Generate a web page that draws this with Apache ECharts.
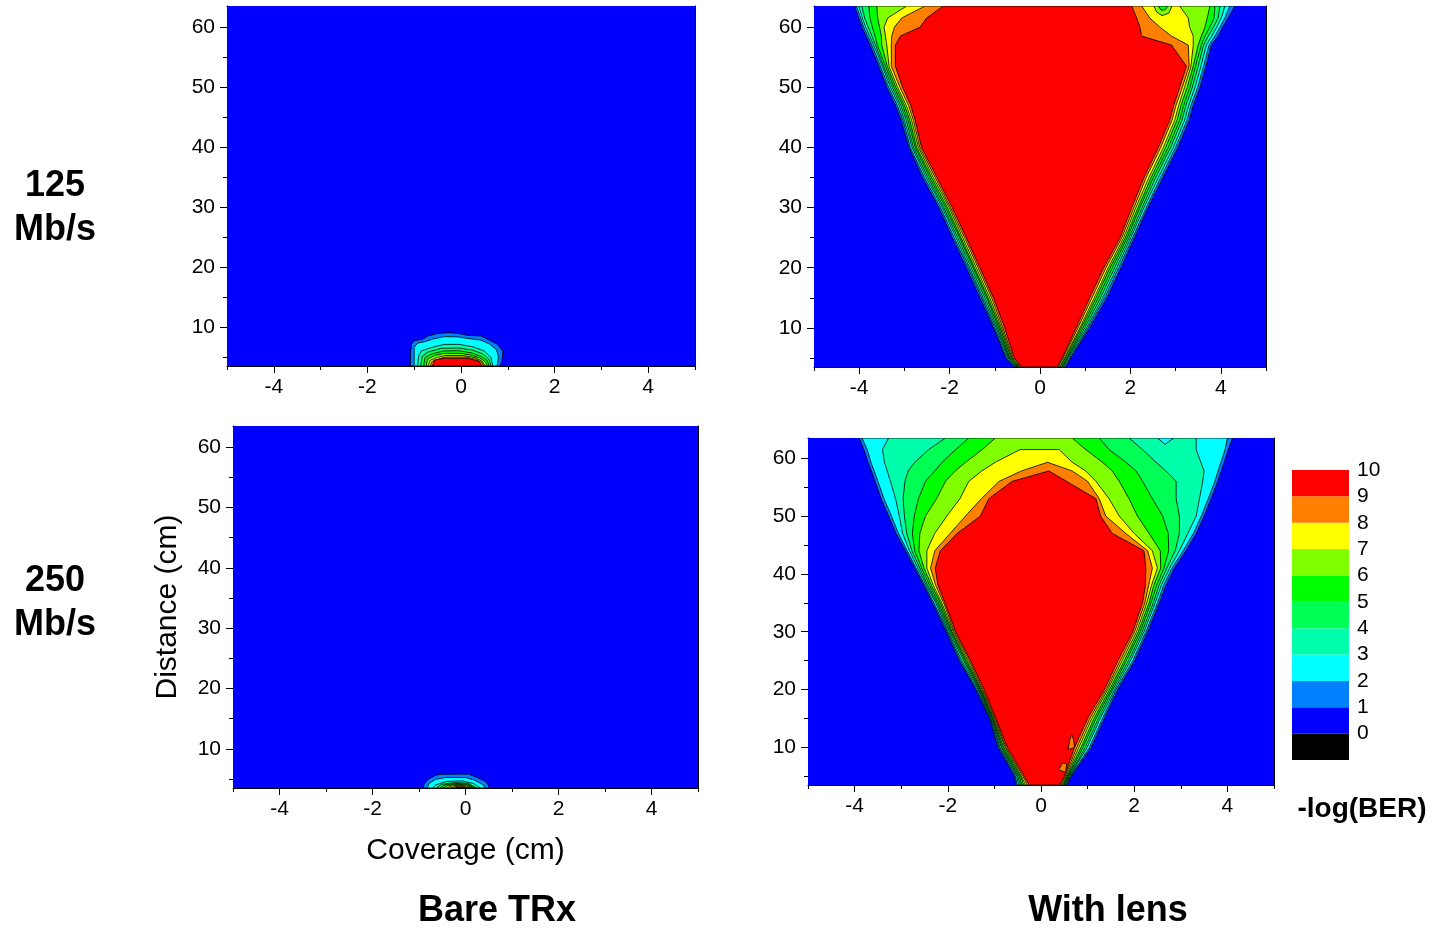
<!DOCTYPE html>
<html>
<head>
<meta charset="utf-8">
<title>-log(BER) coverage maps</title>
<script src="https://cdn.jsdelivr.net/npm/echarts@6/dist/echarts.min.js"></script>
<style>
  html, body { margin: 0; padding: 0; background: #fff; }
  #chart { width: 1435px; height: 929px; }
</style>
</head>
<body>
<div id="chart"></div>
<script>
// axis extents and ticks (cm)
const coverageRange = [-5, 5];
const distanceRange = [3.5, 63.5];
const coverageMajor = [-4, -2, 0, 2, 4];
const coverageMinor = [-5, -3, -1, 1, 3, 5];
const coverageAll = [-5, -4, -3, -2, -1, 0, 1, 2, 3, 4, 5];
const distanceMajor = [10, 20, 30, 40, 50, 60];
const distanceMinor = [5, 15, 25, 35, 45, 55];
const distanceAll = [5, 10, 15, 20, 25, 30, 35, 40, 45, 50, 55, 60];

// -log(BER) bands: lower bound of each band and its fill
const bandLevels = [-1, 0, 1, 2, 3, 4, 5, 6, 7, 8, 9];
const bandColors = ['#000000', '#0000ff', '#0080ff', '#00ffff', '#00ffaa', '#00ff55',
                    '#00ff00', '#80ff00', '#ffff00', '#ff8000', '#ff0000'];

// Bare TRx: contour lines -log(BER) = 1..9 as [coverage, distance]
const bare125Contours = [
  [[-1.08, 3.5], [-1.08, 5.2], [-1.06, 7.1], [-1.0, 7.7], [-0.82, 7.95], [-0.71, 8.5], [-0.5, 8.9], [-0.28, 9.06], [-0.07, 8.95], [0.14, 8.6], [0.43, 8.5], [0.57, 7.95], [0.78, 7.1], [0.89, 6.0], [0.89, 5.2], [0.86, 4.06], [0.82, 3.5]],
  [[-1.0, 3.5], [-1.0, 6.6], [-0.93, 7.3], [-0.75, 7.6], [-0.6, 8.0], [-0.35, 8.4], [-0.07, 8.35], [0.14, 8.1], [0.43, 7.8], [0.6, 7.2], [0.76, 6.2], [0.8, 5.0], [0.77, 3.5]],
  [[-0.93, 3.5], [-0.9, 5.3], [-0.85, 6.0], [-0.64, 6.56], [-0.36, 7.1], [-0.04, 7.1], [0.25, 6.7], [0.5, 6.0], [0.64, 4.9], [0.68, 3.5]],
  [[-0.86, 3.5], [-0.83, 5.1], [-0.72, 5.8], [-0.42, 6.45], [-0.05, 6.5], [0.25, 6.15], [0.47, 5.5], [0.6, 4.6], [0.64, 3.5]],
  [[-0.8, 3.5], [-0.77, 4.9], [-0.63, 5.5], [-0.38, 6.0], [-0.05, 6.05], [0.22, 5.7], [0.43, 5.1], [0.56, 4.4], [0.6, 3.5]],
  [[-0.75, 3.5], [-0.71, 4.7], [-0.56, 5.25], [-0.36, 5.6], [0.0, 5.6], [0.2, 5.35], [0.4, 4.85], [0.52, 4.2], [0.56, 3.5]],
  [[-0.7, 3.5], [-0.66, 4.45], [-0.5, 4.95], [-0.33, 5.25], [0.05, 5.25], [0.3, 4.9], [0.44, 4.35], [0.52, 3.5]],
  [[-0.66, 3.5], [-0.62, 4.25], [-0.45, 4.75], [-0.33, 5.0], [0.1, 5.0], [0.33, 4.6], [0.45, 4.05], [0.49, 3.5]],
  [[-0.61, 3.5], [-0.57, 4.5], [-0.36, 4.78], [0.14, 4.78], [0.38, 4.3], [0.45, 3.5]]
];
const bare250Contours = [
  [[-0.91, 3.5], [-0.89, 4.12], [-0.8, 4.95], [-0.64, 5.62], [-0.5, 5.79], [0.07, 5.79], [0.25, 5.23], [0.43, 4.57], [0.5, 3.85], [0.51, 3.5]],
  [[-0.82, 3.5], [-0.79, 4.2], [-0.64, 4.95], [-0.43, 5.23], [0.0, 5.23], [0.18, 4.84], [0.36, 4.12], [0.43, 3.5]],
  [[-0.71, 3.5], [-0.64, 4.0], [-0.43, 4.57], [-0.07, 4.68], [0.18, 4.23], [0.32, 3.5]],
  [[-0.62, 3.5], [-0.52, 4.1], [-0.25, 4.4], [0.05, 4.3], [0.24, 3.5]],
  [[-0.55, 3.5], [-0.45, 4.0], [-0.22, 4.25], [0.04, 4.15], [0.2, 3.5]],
  [[-0.48, 3.5], [-0.38, 3.92], [-0.18, 4.1], [0.03, 4.0], [0.16, 3.5]],
  [[-0.4, 3.5], [-0.31, 3.82], [-0.15, 3.95], [0.02, 3.85], [0.12, 3.5]],
  [[-0.32, 3.5], [-0.23, 3.72], [-0.1, 3.8], [0.0, 3.7], [0.08, 3.5]],
  [[-0.22, 3.5], [-0.13, 3.62], [-0.03, 3.6], [0.03, 3.5]]
];

// With lens: coverage where each contour 1..9 crosses a distance, left and right side
const lens125Distance = [3.5, 5, 10, 15, 20, 25, 30, 35, 40, 44.5, 47, 50, 53.5, 57, 58.5, 60, 61.5, 63.5];
const lens125Left = [
  [-0.57, -0.76, -1.03, -1.33, -1.63, -1.94, -2.24, -2.60, -2.90, -3.07, -3.20, -3.39, -3.57, -3.76, -3.85, -3.94, -4.01, -4.10],
  [-0.55, -0.74, -1.00, -1.29, -1.59, -1.90, -2.20, -2.56, -2.87, -3.03, -3.16, -3.35, -3.53, -3.72, -3.81, -3.90, -3.97, -4.06],
  [-0.53, -0.71, -0.97, -1.26, -1.56, -1.86, -2.16, -2.52, -2.83, -3.00, -3.12, -3.31, -3.49, -3.68, -3.77, -3.86, -3.93, -4.01],
  [-0.51, -0.69, -0.94, -1.22, -1.52, -1.82, -2.13, -2.48, -2.80, -2.96, -3.08, -3.27, -3.46, -3.64, -3.72, -3.80, -3.88, -3.94],
  [-0.49, -0.67, -0.91, -1.18, -1.48, -1.78, -2.09, -2.44, -2.76, -2.92, -3.04, -3.23, -3.42, -3.60, -3.65, -3.71, -3.76, -3.79],
  [-0.47, -0.64, -0.88, -1.15, -1.45, -1.75, -2.05, -2.40, -2.73, -2.88, -3.00, -3.19, -3.38, -3.50, -3.51, -3.55, -3.59, -3.61],
  [-0.45, -0.62, -0.85, -1.11, -1.41, -1.71, -2.01, -2.36, -2.69, -2.84, -2.96, -3.15, -3.34, -3.39, -3.42, -3.45, -3.37, -2.95],
  [-0.43, -0.60, -0.82, -1.07, -1.37, -1.67, -1.98, -2.32, -2.66, -2.80, -2.91, -3.10, -3.29, -3.29, -3.28, -3.22, -3.06, -2.54],
  [-0.40, -0.57, -0.78, -1.03, -1.33, -1.63, -1.94, -2.28, -2.62, -2.76, -2.86, -3.04, -3.20, -3.20, -3.09, -2.65, -2.51, -2.14]
];
const lens125Right = [
  [0.57, 0.68, 1.10, 1.48, 1.79, 2.09, 2.39, 2.72, 3.05, 3.30, 3.39, 3.54, 3.67, 3.79, 3.94, 4.04, 4.16, 4.31],
  [0.55, 0.66, 1.06, 1.43, 1.74, 2.05, 2.35, 2.67, 3.00, 3.25, 3.34, 3.49, 3.62, 3.74, 3.87, 3.98, 4.09, 4.20],
  [0.52, 0.63, 1.03, 1.39, 1.70, 2.01, 2.30, 2.62, 2.95, 3.20, 3.29, 3.43, 3.56, 3.68, 3.80, 3.91, 4.01, 4.09],
  [0.50, 0.61, 0.99, 1.34, 1.65, 1.97, 2.26, 2.56, 2.89, 3.14, 3.23, 3.37, 3.50, 3.62, 3.72, 3.84, 3.94, 3.98],
  [0.48, 0.59, 0.95, 1.29, 1.60, 1.93, 2.21, 2.51, 2.84, 3.09, 3.18, 3.32, 3.44, 3.57, 3.65, 3.76, 3.85, 3.87],
  [0.45, 0.56, 0.91, 1.24, 1.55, 1.89, 2.17, 2.46, 2.78, 3.03, 3.12, 3.26, 3.39, 3.50, 3.57, 3.65, 3.70, 3.76],
  [0.43, 0.54, 0.88, 1.20, 1.51, 1.85, 2.12, 2.41, 2.73, 2.98, 3.07, 3.20, 3.34, 3.39, 3.39, 3.31, 3.28, 3.09],
  [0.40, 0.51, 0.84, 1.15, 1.46, 1.81, 2.08, 2.35, 2.67, 2.92, 3.01, 3.15, 3.30, 3.28, 2.91, 2.65, 2.43, 2.25],
  [0.38, 0.49, 0.80, 1.10, 1.41, 1.77, 2.03, 2.30, 2.62, 2.87, 2.96, 3.09, 3.24, 2.91, 2.25, 2.21, 2.14, 2.03]
];
const lens250Distance = [3.5, 5, 10, 15, 20, 25, 30, 35, 38, 41, 44, 47, 50, 53, 56, 57.8, 59.3, 61.5, 63.5];
const lens250Left = [
  [-0.54, -0.57, -0.93, -1.11, -1.40, -1.76, -2.04, -2.33, -2.52, -2.71, -2.91, -3.11, -3.27, -3.43, -3.56, -3.64, -3.71, -3.80, -3.90],
  [-0.51, -0.55, -0.90, -1.09, -1.38, -1.73, -2.01, -2.30, -2.49, -2.68, -2.87, -3.06, -3.21, -3.37, -3.50, -3.58, -3.65, -3.73, -3.84],
  [-0.48, -0.52, -0.88, -1.08, -1.35, -1.70, -1.99, -2.26, -2.46, -2.64, -2.82, -2.97, -3.04, -3.12, -3.23, -3.30, -3.36, -3.40, -3.27],
  [-0.44, -0.50, -0.85, -1.06, -1.33, -1.66, -1.96, -2.23, -2.43, -2.60, -2.77, -2.88, -2.93, -2.96, -2.92, -2.85, -2.71, -2.41, -2.05],
  [-0.41, -0.47, -0.83, -1.04, -1.31, -1.63, -1.93, -2.20, -2.39, -2.56, -2.71, -2.76, -2.72, -2.63, -2.48, -2.28, -2.12, -1.83, -1.55],
  [-0.37, -0.44, -0.80, -1.03, -1.29, -1.60, -1.91, -2.16, -2.35, -2.51, -2.62, -2.60, -2.48, -2.24, -2.05, -1.84, -1.62, -1.26, -0.98],
  [-0.33, -0.42, -0.77, -1.01, -1.27, -1.57, -1.88, -2.13, -2.31, -2.45, -2.45, -2.28, -2.02, -1.74, -1.55, -1.27, -0.98, -0.45, null],
  [-0.29, -0.39, -0.75, -0.99, -1.25, -1.54, -1.86, -2.09, -2.26, -2.37, -2.28, -1.95, -1.62, -1.28, -0.90, -0.42, 0.14, null, null],
  [-0.25, -0.36, -0.72, -0.97, -1.22, -1.51, -1.83, -2.06, -2.21, -2.27, -2.16, -1.80, -1.30, -1.12, -0.62, 0.17, null, null, null]
];
const lens250Right = [
  [0.57, 0.65, 1.08, 1.36, 1.65, 2.01, 2.29, 2.54, 2.68, 2.86, 3.11, 3.33, 3.50, 3.65, 3.79, 3.87, 3.93, 4.02, 4.11],
  [0.55, 0.63, 1.04, 1.32, 1.61, 1.97, 2.25, 2.50, 2.63, 2.81, 3.05, 3.27, 3.44, 3.59, 3.73, 3.80, 3.86, 3.95, 4.00],
  [0.53, 0.61, 0.99, 1.27, 1.58, 1.92, 2.21, 2.45, 2.58, 2.76, 2.97, 3.15, 3.33, 3.40, 3.47, 3.50, 3.43, 3.33, 3.33],
  [0.51, 0.60, 0.95, 1.23, 1.54, 1.88, 2.17, 2.41, 2.53, 2.70, 2.88, 2.97, 2.97, 2.90, 2.90, 2.68, 2.47, 2.18, 1.89],
  [0.49, 0.58, 0.90, 1.18, 1.51, 1.83, 2.13, 2.36, 2.48, 2.64, 2.74, 2.73, 2.61, 2.39, 2.18, 2.04, 1.82, 1.46, 1.25],
  [0.47, 0.56, 0.86, 1.14, 1.47, 1.79, 2.09, 2.32, 2.42, 2.57, 2.56, 2.32, 2.07, 1.89, 1.68, 1.53, 1.32, 0.96, 0.67],
  [0.45, 0.54, 0.81, 1.09, 1.43, 1.74, 2.05, 2.27, 2.37, 2.50, 2.39, 2.00, 1.68, 1.46, 1.18, 0.96, 0.67, 0.39, null],
  [0.42, 0.52, 0.77, 1.05, 1.40, 1.70, 2.01, 2.23, 2.31, 2.39, 2.29, 1.82, 1.39, 1.25, 1.00, 0.67, 0.14, null, null],
  [0.40, 0.50, 0.72, 1.00, 1.36, 1.65, 1.97, 2.18, 2.24, 2.25, 2.21, 1.53, 1.28, 1.18, 0.55, 0.17, null, null, null]
];

// small closed pockets of a lower band inside a higher one
const lens125Pockets = [
  { band: 6, line: [[2.52, 63.5], [2.58, 62.5], [2.70, 61.9], [2.85, 62.3], [2.92, 63.5]] },
  { band: 5, line: [[2.62, 63.5], [2.68, 62.8], [2.78, 62.9], [2.82, 63.5]] }
];
const lens250Pockets = [
  { band: 2, line: [[2.50, 63.5], [2.66, 62.4], [2.85, 63.5]] },
  { band: 8, line: [[0.58, 9.6], [0.62, 11.4], [0.66, 12.2], [0.70, 11.3], [0.72, 10.0]] },
  { band: 8, line: [[0.38, 6.1], [0.46, 7.3], [0.55, 7.2], [0.53, 5.7]] }
];

const fontFamily = "'Liberation Sans', Arial, Helvetica, sans-serif";

function baseShape() {
  const [x0, x1] = coverageRange, [y0, y1] = distanceRange;
  return { band: 0, pts: [[x0, y0], [x1, y0], [x1, y1], [x0, y1]] };
}

function domeShapes(contours) {
  return [baseShape()].concat(contours.map((line, i) => ({ band: i + 1, pts: line })));
}

function vShapes(dist, left, right, pockets) {
  const shapes = [baseShape()];
  left.forEach((l, k) => {
    const pts = [];
    dist.forEach((d, i) => { if (l[i] != null) pts.push([l[i], d]); });
    for (let i = dist.length - 1; i >= 0; i--) {
      if (right[k][i] != null) pts.push([right[k][i], dist[i]]);
    }
    shapes.push({ band: k + 1, pts });
  });
  pockets.forEach(p => shapes.push({ band: p.band, pts: p.line }));
  return shapes;
}

const panels = [
  { rect: { left: 227, top: 6, width: 468, height: 360 }, shapes: domeShapes(bare125Contours) },
  { rect: { left: 814, top: 6, width: 452, height: 361 }, shapes: vShapes(lens125Distance, lens125Left, lens125Right, lens125Pockets) },
  { rect: { left: 233, top: 426, width: 465, height: 362 }, shapes: domeShapes(bare250Contours), names: true },
  { rect: { left: 808, top: 438, width: 466, height: 347 }, shapes: vShapes(lens250Distance, lens250Left, lens250Right, lens250Pockets) }
];

const black = { color: '#000', width: 1 };
const labelStyle = { color: '#000', fontSize: 21, fontFamily };

const grids = [], xAxes = [], yAxes = [], series = [];

// main grids: frame, labelled major ticks, mirror ticks on top/right
panels.forEach((p, i) => {
  grids.push(Object.assign({ containLabel: false, outerBoundsMode: 'none' }, p.rect));
  xAxes.push({
    gridIndex: i, type: 'value', position: 'bottom', min: coverageRange[0], max: coverageRange[1],
    axisLine: { show: true, onZero: false, lineStyle: black },
    axisTick: { show: true, length: 7, customValues: coverageMajor, lineStyle: black },
    axisLabel: Object.assign({ show: true, margin: 11, customValues: coverageMajor }, labelStyle),
    splitLine: { show: false },
    name: p.names ? 'Coverage (cm)' : '', nameLocation: 'middle', nameGap: 48,
    nameTextStyle: { color: '#000', fontSize: 30, fontFamily }
  });
  xAxes.push({
    gridIndex: i, type: 'value', position: 'top', min: coverageRange[0], max: coverageRange[1],
    axisLine: { show: true, onZero: false, lineStyle: black },
    axisTick: { show: true, inside: true, length: 4, customValues: coverageAll, lineStyle: black },
    axisLabel: { show: false }, splitLine: { show: false }
  });
  yAxes.push({
    gridIndex: i, type: 'value', position: 'left', min: distanceRange[0], max: distanceRange[1],
    axisLine: { show: true, onZero: false, lineStyle: black },
    axisTick: { show: true, length: 7, customValues: distanceMajor, lineStyle: black },
    axisLabel: Object.assign({ show: true, margin: 12, customValues: distanceMajor }, labelStyle),
    splitLine: { show: false },
    name: p.names ? 'Distance (cm)' : '', nameLocation: 'middle', nameGap: 50, nameRotate: 90,
    nameTextStyle: { color: '#000', fontSize: 30, fontFamily }
  });
  yAxes.push({
    gridIndex: i, type: 'value', position: 'right', min: distanceRange[0], max: distanceRange[1],
    axisLine: { show: true, onZero: false, lineStyle: black },
    axisTick: { show: true, inside: true, length: 4, customValues: distanceAll, lineStyle: black },
    axisLabel: { show: false }, splitLine: { show: false }
  });
  series.push({
    type: 'custom', xAxisIndex: 2 * i, yAxisIndex: 2 * i, clip: true, silent: true,
    data: p.shapes.map((s, k) => k),
    renderItem: function (params, api) {
      const s = p.shapes[params.dataIndex];
      return {
        type: 'polygon',
        shape: { points: s.pts.map(pt => api.coord(pt)) },
        style: { fill: bandColors[s.band + 1], stroke: s.band > 0 ? '#000' : null, lineWidth: 0.8 }
      };
    },
    z: 1
  });
});

// twin grids carrying the short minor ticks on bottom/left
panels.forEach((p, i) => {
  grids.push(Object.assign({ containLabel: false, outerBoundsMode: 'none' }, p.rect));
  xAxes.push({
    gridIndex: 4 + i, type: 'value', position: 'bottom', min: coverageRange[0], max: coverageRange[1],
    axisLine: { show: false, onZero: false },
    axisTick: { show: true, length: 4, customValues: coverageMinor, lineStyle: black },
    axisLabel: { show: false }, splitLine: { show: false }
  });
  yAxes.push({
    gridIndex: 4 + i, type: 'value', position: 'left', min: distanceRange[0], max: distanceRange[1],
    axisLine: { show: false, onZero: false },
    axisTick: { show: true, length: 4, customValues: distanceMinor, lineStyle: black },
    axisLabel: { show: false }, splitLine: { show: false }
  });
});

// colour scale (grid 8, axis index 12)
const scaleAxis = xAxes.length;
grids.push({ left: 1292, top: 470, width: 57, height: 290, containLabel: false, outerBoundsMode: 'none' });
xAxes.push({ gridIndex: 8, type: 'value', min: 0, max: 1, show: false });
yAxes.push({
  gridIndex: 8, type: 'value', position: 'right', min: -1, max: 10, interval: 1,
  axisLine: { show: false }, axisTick: { show: false }, splitLine: { show: false },
  axisLabel: Object.assign({ margin: 8, formatter: v => (v < 0 ? '' : String(v)) }, labelStyle)
});
series.push({
  type: 'custom', xAxisIndex: scaleAxis, yAxisIndex: scaleAxis, silent: true,
  data: bandLevels.map(b => [0.5, b]),
  renderItem: function (params, api) {
    const b = bandLevels[params.dataIndex];
    const tl = api.coord([0, b + 1]);
    const br = api.coord([1, b]);
    return {
      type: 'rect',
      shape: { x: tl[0], y: tl[1], width: br[0] - tl[0], height: br[1] - tl[1] },
      style: { fill: bandColors[params.dataIndex] }
    };
  }
});

function boldText(text, x, y, size) {
  return {
    type: 'text', x, y, silent: true,
    style: { text, fill: '#000', font: 'bold ' + size + 'px ' + fontFamily, align: 'center', verticalAlign: 'middle' }
  };
}

const chart = echarts.init(document.getElementById('chart'));
chart.setOption({
  animation: false,
  backgroundColor: '#fff',
  grid: grids,
  xAxis: xAxes,
  yAxis: yAxes,
  series,
  graphic: [
    boldText('125', 55, 186, 36), boldText('Mb/s', 55, 230, 36),
    boldText('250', 55, 581, 36), boldText('Mb/s', 55, 625, 36),
    boldText('Bare TRx', 497, 911, 36), boldText('With lens', 1108, 911, 36),
    boldText('-log(BER)', 1362, 809, 28)
  ]
});
</script>
</body>
</html>
